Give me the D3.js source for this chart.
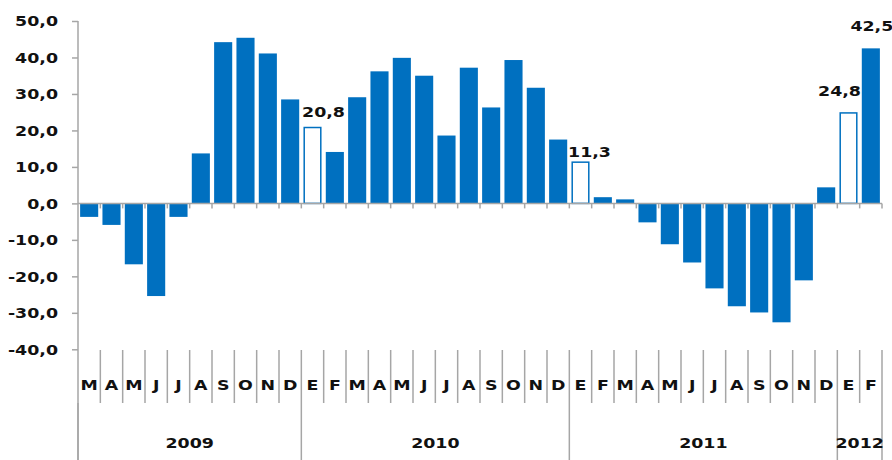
<!DOCTYPE html>
<html lang="es">
  <head>
    <meta charset="utf-8">
    <title>Variación mensual</title>
    <script src="https://d3js.org/d3.v7.min.js"></script>
    <style>
      body { margin: 0; background: #fff; }
      text { font-family: "DejaVu Sans", Verdana, sans-serif; font-weight: bold; fill: #111; }
    </style>
  </head>
  <body>
    <script type="text/javascript">

      var w = 892;
      var h = 460;

      // data
      var months = ["M","A","M","J","J","A","S","O","N","D",
                    "E","F","M","A","M","J","J","A","S","O","N","D",
                    "E","F","M","A","M","J","J","A","S","O","N","D",
                    "E","F"];
      var values = [-3.7, -5.9, -16.7, -25.4, -3.7, 13.7, 44.2, 45.4, 41.1, 28.5,
                    20.8, 14.1, 29.1, 36.2, 39.9, 35.0, 18.6, 37.2, 26.3, 39.3, 31.7, 17.5,
                    11.3, 1.7, 1.1, -5.2, -11.2, -16.2, -23.3, -28.2, -29.9, -32.6, -21.1, 4.4,
                    24.8, 42.5];
      var hollow = [10, 22, 34];          // index of bars drawn as outline
      var labelled = [10, 22, 34, 35];    // bars with a value label
      var years = ["2009", "2010", "2011", "2012"];
      var yearSpan = [10, 12, 12, 2];
      var yTicks = [-40, -30, -20, -10, 0, 10, 20, 30, 40, 50];

      // small hand tweaks for label placement (dx, dy from bar top)
      var labelDx = [11, 9, -9, 1];
      var labelDy = [-11, -5, -17, -17];

      var blue = "#0070C0";
      var grey = "#a6a6a6";
      var fs = 14.5;
      var stretch = "scale(1.2,1)";

      var plotLeft = 78, plotRight = 882, plotTop = 21, plotBottom = 349.3;

      var svg = d3.select("body")
          .append("svg")
          .attr("width", w)
          .attr("height", h);

      var x = d3.scaleBand()
          .domain(d3.range(months.length))
          .range([plotLeft, plotRight])
          .paddingInner(0.19)
          .paddingOuter(0.095);

      var step = x.step();
      var bx = i => plotLeft + i * (plotRight - plotLeft) / months.length;  // category boundary

      var y = d3.scaleLinear()
          .domain([-40, 50])
          .range([plotBottom, plotTop]);

      var fmt = d => d3.format(".1f")(d).replace(".", ",").replace("−", "-");

      // y axis
      var yAxis = svg.append("g")
          .attr("transform", "translate(" + plotLeft + ",0)")
          .call(d3.axisLeft(y).tickValues(yTicks).tickSize(6).tickSizeOuter(0).tickFormat(fmt));
      yAxis.select(".domain").remove();
      yAxis.selectAll("line").attr("stroke", grey).attr("stroke-width", 1.5);
      yAxis.selectAll("text")
          .attr("x", null).attr("dy", null)
          .attr("font-size", fs)
          .attr("dominant-baseline", "central")
          .attr("text-anchor", "end")
          .attr("transform", "translate(-20,0) " + stretch)
          .attr("fill", "#111");
      yAxis.attr("font-family", null).attr("font-size", null);

      svg.append("line")
          .attr("x1", plotLeft).attr("x2", plotLeft)
          .attr("y1", plotTop).attr("y2", h)
          .attr("stroke", grey).attr("stroke-width", 1.5);

      // bars
      svg.append("g").selectAll("rect")
          .data(values)
          .enter()
          .append("rect")
          .attr("x", (d, i) => x(i) + (hollow.indexOf(i) >= 0 ? 0.75 : 0))
          .attr("width", (d, i) => x.bandwidth() - (hollow.indexOf(i) >= 0 ? 1.5 : 0))
          .attr("y", d => y(Math.max(0, d)))
          .attr("height", d => Math.abs(y(d) - y(0)))
          .attr("fill", (d, i) => hollow.indexOf(i) >= 0 ? "#fff" : blue)
          .attr("stroke", (d, i) => hollow.indexOf(i) >= 0 ? blue : "none")
          .attr("stroke-width", 1.5);

      // zero line with ticks at category boundaries
      svg.append("line")
          .attr("x1", plotLeft).attr("x2", plotRight)
          .attr("y1", y(0)).attr("y2", y(0))
          .attr("stroke", grey).attr("stroke-width", 1.5);

      svg.append("g").selectAll("line")
          .data(d3.range(1, months.length + 1))
          .enter()
          .append("line")
          .attr("x1", bx).attr("x2", bx)
          .attr("y1", y(0)).attr("y2", y(0) + 5)
          .attr("stroke", grey).attr("stroke-width", 1.5);

      // value labels
      svg.append("g").selectAll("text")
          .data(labelled)
          .enter()
          .append("text")
          .attr("text-anchor", "middle")
          .attr("font-size", fs)
          .attr("transform", (d, k) => "translate(" + (x(d) + x.bandwidth() / 2 + labelDx[k]) + "," +
                (y(values[d]) + labelDy[k]) + ") " + stretch)
          .text(d => fmt(values[d]));

      // month row separators and labels
      svg.append("g").selectAll("line")
          .data(d3.range(1, months.length + 1))
          .enter()
          .append("line")
          .attr("x1", bx).attr("x2", bx)
          .attr("y1", 350).attr("y2", 403)
          .attr("stroke", grey).attr("stroke-width", 1.5);

      svg.append("g").selectAll("text")
          .data(months)
          .enter()
          .append("text")
          .attr("text-anchor", "middle")
          .attr("font-size", fs)
          .attr("dominant-baseline", "central")
          .attr("transform", (d, i) => "translate(" + (bx(i) + step / 2) + ",385) " + stretch)
          .text(d => d);

      // year separators and labels
      var starts = [0];
      yearSpan.forEach((s, i) => starts.push(starts[i] + s));

      svg.append("g").selectAll("line")
          .data(starts)
          .enter()
          .append("line")
          .attr("x1", d => bx(d)).attr("x2", d => bx(d))
          .attr("y1", 403).attr("y2", h)
          .attr("stroke", grey).attr("stroke-width", 1.5);

      svg.append("g").selectAll("text")
          .data(years)
          .enter()
          .append("text")
          .attr("text-anchor", "middle")
          .attr("font-size", fs)
          .attr("dominant-baseline", "central")
          .attr("transform", (d, i) => "translate(" + ((bx(starts[i]) + bx(starts[i + 1])) / 2) + ",443) " + stretch)
          .text(d => d);

    </script>
  </body>
</html>
